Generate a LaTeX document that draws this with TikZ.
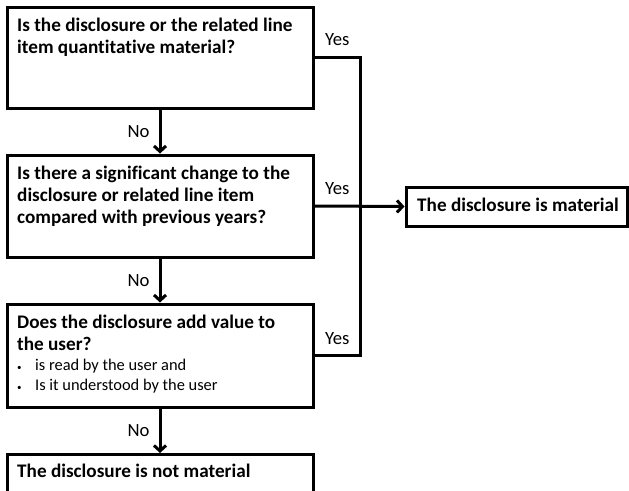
\documentclass[tikz,border=0pt]{standalone}
\usepackage{fontspec}
\setmainfont{Carlito}[Ligatures=NoCommon]
\usetikzlibrary{arrows.meta}
\newcommand\bulletline[1]{\hbox{\makebox[18pt][l]{\small\textbullet}#1}}
\begin{document}
\begin{tikzpicture}[x=1pt,y=-1pt,
  box/.style={draw, line width=3pt, inner sep=0pt, minimum width=306pt},
  txt/.style={inner sep=0pt, anchor=base west, font=\fontsize{19.2pt}{22pt}\selectfont\bfseries},
  lbl/.style={inner sep=0pt, font=\fontsize{18.67pt}{22pt}\selectfont},
  conn/.style={line width=3pt},
  arr/.style={conn, -{Straight Barb[length=5.5pt,width=12pt,line width=3pt]}},
]
\useasboundingbox (0,0) rectangle (629,490);
\clip (0,0) rectangle (629,490);

% boxes
\node[box, minimum height=101pt] (q1) at (160,57.5) {};
\node[box, minimum height=102pt] (q2) at (160,206) {};
\node[box, minimum height=103pt] (q3) at (160,355.5) {};
\node[box, minimum height=80pt, anchor=north] (q4) at (160,453) {};
\node[box, minimum width=221pt, minimum height=39pt] (m) at (516.5,206.5) {};

% texts
\node[txt] (t1) at (17,31) {\vtop{\baselineskip=22pt\lineskiplimit=-100pt
  \hbox{Is the disclosure or the related line}\hbox{item quantitative material?}}};
\node[txt] (t2) at (17,179) {\vtop{\baselineskip=22pt\lineskiplimit=-100pt
  \hbox{Is there a significant change to the}\hbox{disclosure or related line item}\hbox{compared with previous years?}}};
\node[txt] (t3) at (17,328) {\vtop{\baselineskip=22pt\lineskiplimit=-100pt
  \hbox{Does the disclosure add value to}\hbox{the user?}%
  \fontsize{16.4pt}{20pt}\selectfont\mdseries
  \bulletline{is read by the user and}\baselineskip=20pt
  \bulletline{Is it understood by the user}}};
\node[txt] (t4) at (17,477) {The disclosure is not material};
\node[txt] (t5) at (417,211) {The disclosure is material};

% junction on the Yes bus
\coordinate (j) at (360,355.5);

% No connectors
\draw[arr] (q1.south) -- node[lbl, anchor=base east, xshift=-9pt, yshift=-6pt] (n1) {No} (q2.north);
\draw[arr] (q2.south) -- node[lbl, anchor=base east, xshift=-9pt, yshift=-6pt] (n2) {No} (q3.north);
\draw[arr] (q3.south) -- node[lbl, anchor=base east, xshift=-9pt, yshift=-6pt] (n3) {No} (q4.north);

% Yes bus
\draw[conn, line join=miter] (q1.east) -| (j) -- (q3.east);
\draw[arr] (q2.east) -- (m.west);
\path (q1.east) -- (q1.east -| j) node[lbl, midway, anchor=base, yshift=12pt] (y1) {Yes};
\path (q2.east) -- (q2.east -| j) node[lbl, midway, anchor=base, yshift=12pt] (y2) {Yes};
\path (q3.east) -- (q3.east -| j) node[lbl, midway, anchor=base, yshift=11pt] (y3) {Yes};
\end{tikzpicture}
\end{document}
